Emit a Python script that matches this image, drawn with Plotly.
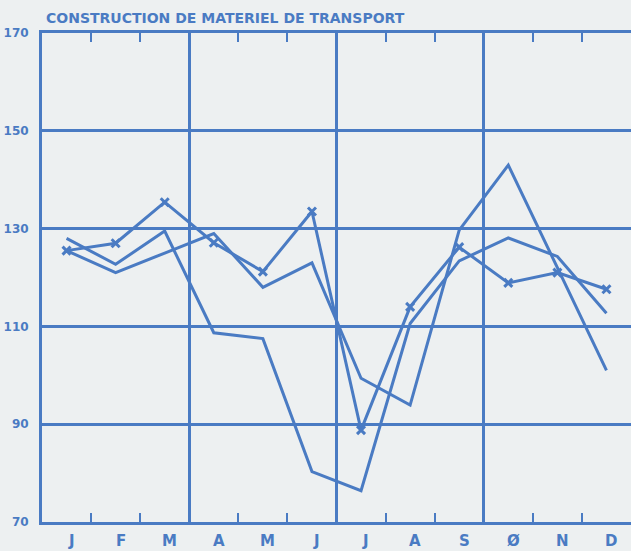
import plotly.graph_objects as go

months = ["J", "F", "M", "A", "M", "J", "J", "A", "S", "Ø", "N", "D"]
series_x_marked = [125.5, 127.0, 135.4, 127.1, 121.2, 133.5, 88.8, 114.0, 126.2, 118.9, 121.0, 117.6]
series_peak = [125.5, 121.0, 125.0, 129.0, 118.0, 123.0, 99.4, 93.9, 129.7, 143.0, 122.0, 101.0]
series_dip = [128.0, 122.7, 129.5, 108.7, 107.5, 80.3, 76.4, 110.6, 123.4, 128.1, 124.3, 112.7]
y_ticks = [70, 90, 110, 130, 150, 170]
title_text = "CONSTRUCTION DE MATERIEL DE TRANSPORT"

BLUE = "#4a7bc3"
BG = "#edf0f1"
FONT = "DejaVu Sans"

xs = [i + 0.5 for i in range(len(months))]

fig = go.Figure()
fig.add_trace(go.Scatter(x=xs, y=series_peak, mode="lines",
                         line=dict(color=BLUE, width=3), showlegend=False))
fig.add_trace(go.Scatter(x=xs, y=series_dip, mode="lines",
                         line=dict(color=BLUE, width=3), showlegend=False))
fig.add_trace(go.Scatter(x=xs, y=series_x_marked, mode="lines+markers",
                         line=dict(color=BLUE, width=3),
                         marker=dict(symbol="x-thin", size=8,
                                     line=dict(color=BLUE, width=3)),
                         showlegend=False))

fig.update_layout(
    width=631, height=551,
    margin=dict(l=42, r=0, t=33, b=29),
    paper_bgcolor=BG, plot_bgcolor=BG,
    font=dict(family=FONT, color=BLUE),
    xaxis=dict(range=[0, 12], tickvals=[3, 6, 9], showticklabels=False,
               ticks="inside", ticklen=9, tickwidth=2, tickcolor=BLUE,
               showgrid=True, gridcolor=BLUE, gridwidth=2.5,
               showline=True, linecolor=BLUE, linewidth=3, mirror="ticks",
               zeroline=False,
               minor=dict(tickvals=[1, 2, 4, 5, 7, 8, 10, 11], ticks="inside",
                          ticklen=9, tickwidth=2, tickcolor=BLUE, showgrid=False)),
    yaxis=dict(range=[70, 170], tickvals=y_ticks, ticktext=[str(v) for v in y_ticks],
               ticks="", showgrid=True, gridcolor=BLUE, gridwidth=2.5,
               showline=True, linecolor=BLUE, linewidth=3, zeroline=False,
               ticklabelstandoff=8,
               tickfont=dict(family=FONT, size=12, color=BLUE, weight="bold")),
)

for i, m in enumerate(months):
    fig.add_annotation(x=i + 0.6, y=-0.038, xref="x", yref="paper", text=m,
                       showarrow=False, xanchor="center", yanchor="middle",
                       font=dict(family=FONT, size=15, color=BLUE, weight="bold"))

fig.add_annotation(x=0.004, y=1.031, xref="paper", yref="paper", text=title_text,
                   showarrow=False, xanchor="left", yanchor="middle",
                   font=dict(family=FONT, size=14, color=BLUE, weight="bold"))

fig.write_html("out.html", config={"displayModeBar": False},
               post_script="document.body.style.margin='0';document.body.style.overflow='hidden';")
